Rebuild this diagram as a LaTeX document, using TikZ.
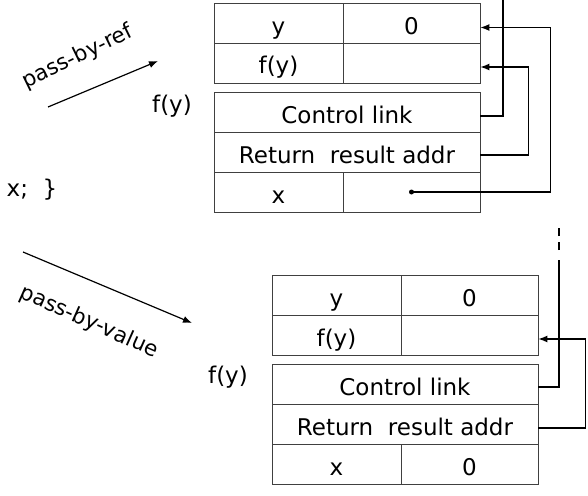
\documentclass[tikz,border=0pt]{standalone}
\usepackage{fontspec}
\setmainfont{DejaVu Sans}
\usetikzlibrary{arrows.meta}

\begin{document}
\begin{tikzpicture}[x=1pt, y=-1pt,
    cell/.style={draw=black!75, line width=0.8pt, minimum height=40pt,
      inner sep=0pt, text height=26pt, text depth=4pt,
      font=\fontsize{23}{26}\selectfont},
    link/.style={line width=1.3pt},
    ptr/.style={link, -{Latex[length=9pt,width=7pt]}},
    lbl/.style={font=\fontsize{23}{26}\selectfont},
    note/.style={font=\fontsize{21.5}{24}\selectfont}]
		\useasboundingbox (0,0) rectangle (588,495);

		% Pass-by-ref frame
		\node[cell, minimum width=129pt] (ty) at (278.5,23.5) {y};
		\node[cell, minimum width=137pt] (tyv) at (411.5,23.5) {0};
		\node[cell, minimum width=129pt] (tf) at (278.5,63) {f(y)};
		\node[cell, minimum width=137pt] (tfv) at (411.5,63) {};
		\node[cell, minimum width=266pt] (tcl) at (347,112) {Control link};
		\node[cell, minimum width=266pt] (tret) at (347,152) {Return\ \ result addr};
		\node[cell, minimum width=129pt] (tx) at (278.5,192) {x};
		\node[cell, minimum width=137pt] (txv) at (411.5,192) {};
		\node[lbl] (tname) at (172,106) {f(y)};

		% Pass-by-ref links
		\coordinate (ttop) at (503,0);
		\draw[link] ([yshift=-4pt]tcl.east) -| (ttop);
		\draw[ptr] ([yshift=-3pt]tret.east) -- ++(48,0) |- ([yshift=-4pt]tfv.east);
		\fill (txv.center) circle (2.5pt);
		\draw[ptr] (txv.center) -- ++(139,0) |- ([yshift=-4pt]tyv.east);

		% Pass-by-value frame
		\node[cell, minimum width=129pt] (by) at (336.5,295.5) {y};
		\node[cell, minimum width=137pt] (byv) at (469.5,295.5) {0};
		\node[cell, minimum width=129pt] (bf) at (336.5,335) {f(y)};
		\node[cell, minimum width=137pt] (bfv) at (469.5,335) {};
		\node[cell, minimum width=266pt] (bcl) at (405,384) {Control link};
		\node[cell, minimum width=266pt] (bret) at (405,424) {Return\ \ result addr};
		\node[cell, minimum width=129pt] (bx) at (336.5,464) {x};
		\node[cell, minimum width=137pt] (bxv) at (469.5,464) {0};
		\node[lbl] (bname) at (228,377) {f(y)};

		% Pass-by-value links
		\coordinate (bmid) at (559,260);
		\coordinate (bdash) at (559,250);
		\coordinate (btop) at (559,228);
		\draw[link] ([yshift=-3pt]bcl.east) -| (bmid);
		\draw[link, dash pattern=on 8pt off 6pt] (bdash) -- (btop);
		\draw[ptr] ([yshift=-4pt]bret.east) -- ++(47,0) |- ([yshift=-4pt]bfv.east);

		% Caller side
		\node[lbl] (code) at (32,190) {x;\ \ \}};
		\node[note, rotate=26] (refnote) at (78,57) {pass-by-ref};
		\coordinate (refs) at (48,107);
		\coordinate (refe) at (158,61);
		\draw[line width=1.2pt, -{Latex[length=9pt,width=7pt]}] (refs) -- (refe);
		\node[note, rotate=-24] (valnote) at (89,322) {pass-by-value};
		\coordinate (vals) at (23,252);
		\coordinate (vale) at (192,323);
		\draw[line width=1.2pt, -{Latex[length=9pt,width=7pt]}] (vals) -- (vale);
	\end{tikzpicture}
\end{document}
